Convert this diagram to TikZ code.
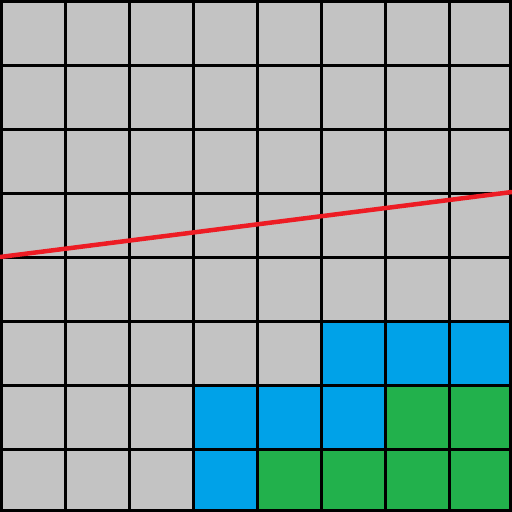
\documentclass[tikz,border=0pt]{standalone}
\definecolor{cellgray}{HTML}{C3C3C3}
\definecolor{cellblue}{HTML}{00A2E8}
\definecolor{cellgreen}{HTML}{22B14C}
\definecolor{redline}{HTML}{ED1C24}
\tikzset{gridline/.style={black,line width=3pt}, cutline/.style={redline,line width=4.5pt}}
\begin{document}
\begin{tikzpicture}[x=1pt,y=-1pt]
\useasboundingbox (0,0) rectangle (512,512);
\fill[cellgray] (0,0) rectangle (512,512);
% blue cells
\foreach \c/\r in {5/5,6/5,7/5,3/6,4/6,5/6,3/7}
  \fill[cellblue] (64*\c,64*\r) rectangle (64*\c+64,64*\r+64);
% green cells
\foreach \c/\r in {6/6,7/6,4/7,5/7,6/7,7/7}
  \fill[cellgreen] (64*\c,64*\r) rectangle (64*\c+64,64*\r+64);
% grid
\foreach \i in {0,...,7} {
  \draw[gridline] (64*\i+1.5,0) -- (64*\i+1.5,512);
  \draw[gridline] (0,64*\i+1.5) -- (512,64*\i+1.5);
}
\draw[gridline] (510.5,0) -- (510.5,512);
\draw[gridline] (0,510.5) -- (512,510.5);
\coordinate (L) at (0,257);
\coordinate (R) at (512,192);
\draw[cutline] (L) -- (R);
\end{tikzpicture}
\end{document}
